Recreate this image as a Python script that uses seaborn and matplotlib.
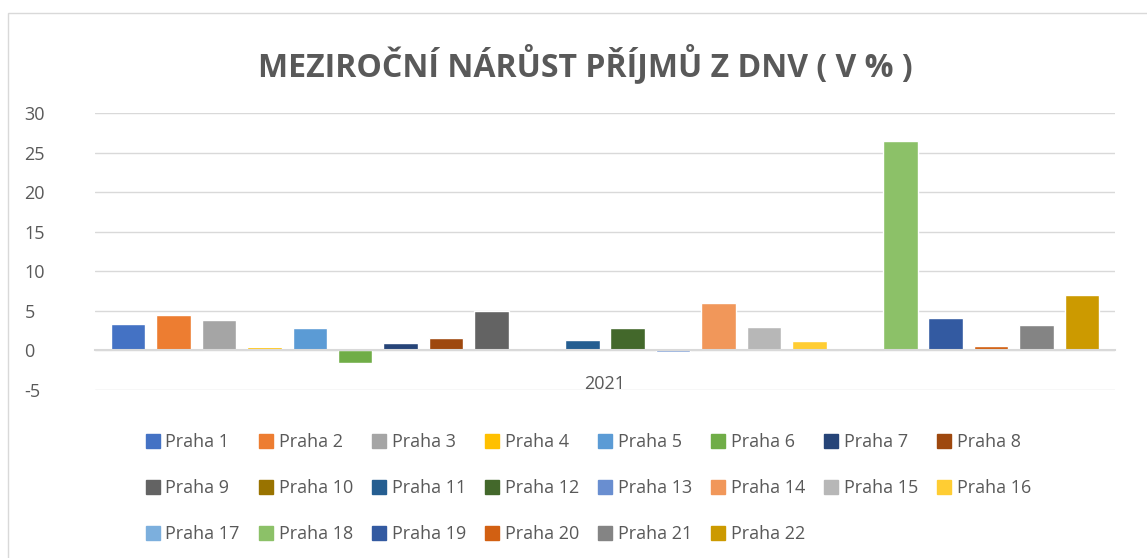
import matplotlib.pyplot as plt
import matplotlib.patches as mpatches
from matplotlib.lines import Line2D
import seaborn as sns
import pandas as pd

# data
districts = ["Praha %d" % i for i in range(1, 23)]
growth = [3.4, 4.5, 3.9, 0.5, 2.9, -1.6, 1.0, 1.6, 5.0, 0.0, 1.35,
          2.9, -0.25, 6.0, 3.0, 1.2, 0.2, 26.4, 4.1, 0.6, 3.2, 7.0]
year = "2021"
colors = ["#4472C4", "#ED7D31", "#A5A5A5", "#FFC000", "#5B9BD5", "#70AD47",
          "#264478", "#9E480E", "#636363", "#997300", "#255E91", "#43682B",
          "#698ED0", "#F1975A", "#B7B7B7", "#FFCD33", "#7CAFDD", "#8CC168",
          "#335AA1", "#D26012", "#848484", "#CC9A00"]

df = pd.DataFrame({"rok": year, "mestska_cast": districts, "narust": growth})

sns.set_style("white")
plt.rcParams["font.family"] = ["Open Sans", "DejaVu Sans"]
plt.rcParams["axes.unicode_minus"] = False

fig = plt.figure(figsize=(11.47, 5.58), dpi=100)
ax = fig.add_axes([0.083, 0.301, 0.889, 0.4965])

sns.barplot(data=df, x="rok", y="narust", hue="mestska_cast",
            palette=colors, saturation=1, width=0.98, gap=0.24,
            legend=False, ax=ax)

ax.set_ylim(-5, 30)
ax.set_yticks(range(-5, 31, 5))
ax.set_xlim(-0.5, 0.5)
ax.yaxis.grid(True, color="#D9D9D9", linewidth=1)
ax.set_axisbelow(True)
for s in ["top", "right", "left"]:
    ax.spines[s].set_visible(False)
ax.spines["bottom"].set_position(("data", 0))
ax.spines["bottom"].set_color("#D9D9D9")
ax.spines["bottom"].set_linewidth(1.5)
ax.tick_params(axis="x", length=0, pad=18, labelsize=13, labelcolor="#595959")
ax.tick_params(axis="y", length=0, pad=51, labelsize=13, labelcolor="#595959")
for lbl in ax.get_yticklabels():
    lbl.set_horizontalalignment("left")
ax.set_xlabel("")
ax.set_ylabel("")

fig.text(0.51, 0.885, "MEZIROČNÍ NÁRŮST PŘÍJMŮ Z DNV ( V % )", ha="center",
         va="center", fontsize=23, fontweight="bold", color="#595959")

# legend laid out row by row, like the original
ncol = 8
order = [i for c in range(ncol) for i in range(c, len(districts), ncol)]
handles = [Line2D([], [], marker="s", linestyle="", markersize=10,
                  markerfacecolor=colors[i], markeredgecolor=colors[i])
           for i in order]
labels = [districts[i] for i in order]
fig.legend(handles, labels, loc="upper center", ncol=ncol,
           bbox_to_anchor=(0.513, 1 - 417 / 558), frameon=False,
           fontsize=13, labelcolor="#595959", handlelength=0.8,
           handletextpad=0.3, columnspacing=1.05, labelspacing=1.55)

fig.patches.append(mpatches.Rectangle((8 / 1147, -0.1), 1.1, 1 - 13 / 558 + 0.1,
                                      transform=fig.transFigure, fill=False,
                                      edgecolor="#D9D9D9", linewidth=1))

fig.savefig("out.png", dpi=100)
